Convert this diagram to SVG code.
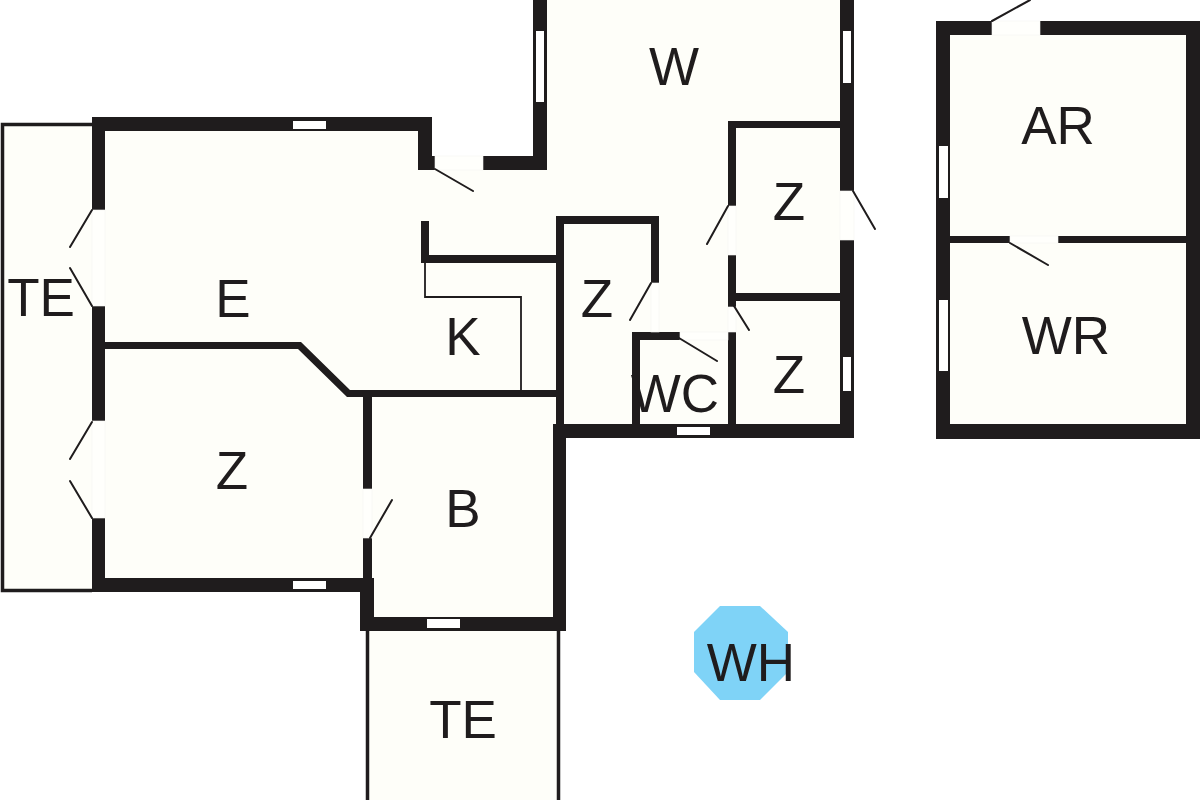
<svg xmlns="http://www.w3.org/2000/svg" width="1200" height="800" viewBox="0 0 1200 800">
<style>
.f{fill:#fefef9}
.w{fill:#1f1c1d}
.g{fill:#fffffc;stroke:#f5f5f1;stroke-width:.6}
.p{fill:#fff;stroke:none}
.l{stroke:#1f1c1d;stroke-width:2;fill:none;stroke-linecap:round}
.k{stroke:#1f1c1d;stroke-width:1.8;fill:none}
.t{stroke:#1f1c1d;stroke-width:3.500;fill:none}
text{font-family:"Liberation Sans",Arial,sans-serif;font-size:53px;fill:#1f1c1d;text-anchor:middle}
</style>
<rect width="1200" height="800" fill="#fff"/>
<g id="floor">
<path class="f" d="M3 125H92V118H432V170H547V0H854V438H566V631H560V800H367V631H360V592H3Z"/>
<rect class="f" x="936" y="21" width="264" height="418"/>
<path d="M720 606H760L788 632V672L760 700H720L694 672V632Z" fill="#7fd3f7"/>
</g>
<g id="walls">
<path class="t" d="M92 124.500H2.500V590.500H92"/>
<path class="t" d="M367.500 631V800M558.500 631V800"/>
<g class="w">
<rect x="92" y="117" width="340" height="14"/>
<rect x="92" y="117" width="13" height="93"/>
<rect x="92" y="306" width="13" height="115"/>
<rect x="92" y="518" width="13" height="74"/>
<rect x="92" y="578" width="282" height="14"/>
<rect x="360" y="578" width="14" height="53"/>
<rect x="360" y="617" width="206" height="14"/>
<rect x="553" y="424" width="13" height="207"/>
<rect x="553" y="424" width="301" height="14"/>
<path d="M105 342H301L350 390H556V397H347L298 349H105Z"/>
<rect x="363" y="397" width="9" height="92"/>
<rect x="363" y="538" width="9" height="40"/>
<rect x="418" y="117" width="14" height="53"/>
<rect x="418" y="156" width="17" height="14"/>
<rect x="483" y="156" width="64" height="14"/>
<rect x="533" y="0" width="14" height="170"/>
<rect x="421" y="221" width="8" height="42"/>
<rect x="421" y="255" width="135" height="8"/>
<rect x="556" y="216" width="8" height="208"/>
<rect x="556" y="216" width="103" height="8"/>
<rect x="651" y="216" width="8" height="67"/>
<rect x="632" y="332" width="8" height="92"/>
<rect x="632" y="332" width="48" height="8"/>
<rect x="728" y="121" width="112" height="7"/>
<rect x="728" y="121" width="8" height="85"/>
<rect x="728" y="255" width="8" height="52"/>
<rect x="728" y="332" width="8" height="92"/>
<rect x="736" y="293" width="104" height="8"/>
<rect x="840" y="0" width="14" height="191"/>
<rect x="840" y="240" width="14" height="198"/>
<path d="M936 21H992V35H950V236H1010V243H950V424H1186V243H1058V236H1186V35H1040V21H1200V439H936Z"/>
</g>
</g>
<g id="openings">
<rect class="g" x="92" y="210" width="13" height="96"/>
<rect class="g" x="92" y="421" width="13" height="97"/>
<rect class="g" x="363" y="489" width="9" height="49"/>
<rect class="g" x="435" y="156" width="48" height="14"/>
<rect class="g" x="651" y="283" width="8" height="49"/>
<rect class="g" x="680" y="332" width="48" height="8"/>
<rect class="g" x="728" y="206" width="8" height="49"/>
<rect class="g" x="728" y="307" width="8" height="25"/>
<rect class="g" x="840" y="191" width="14" height="49"/>
<rect class="g" x="992" y="21" width="48" height="14"/>
<rect class="g" x="1010" y="236" width="48" height="7"/>
</g>
<g id="windows">
<rect class="p" x="293" y="121" width="33" height="8"/>
<rect class="p" x="293" y="581" width="33" height="8"/>
<rect class="p" x="427" y="619" width="33" height="9"/>
<rect class="p" x="677" y="427" width="33" height="8"/>
<rect class="p" x="843" y="357" width="8" height="34"/>
<rect class="p" x="843" y="31" width="8" height="52"/>
<rect class="p" x="536" y="31" width="8" height="71"/>
<rect class="p" x="939" y="146" width="9" height="52"/>
<rect class="p" x="939" y="300" width="9" height="71"/>
</g>
<g id="connectors">
<path class="l" d="M92 210L70 247M70 268L92 306M92 422L70 459M70 481L92 518M370 538L392 500M435 169L473 191M651 283L630 320M728 206L707 244M734 306L749 330M679 338L717 361M853 191L875 229M992 21L1030 0M1010 243L1048 265"/>
<path class="k" d="M425 263V297H521V390"/>
</g>
<g id="labels">
<text x="41" y="316">TE</text>
<text x="233" y="317">E</text>
<text x="674" y="85">W</text>
<text x="1058" y="144">AR</text>
<text x="1066" y="354">WR</text>
<text x="789" y="220">Z</text>
<text x="789" y="393">Z</text>
<text x="675" y="412">WC</text>
<text x="463" y="355">K</text>
<text x="597" y="317">Z</text>
<text x="232" y="489">Z</text>
<text x="463" y="527">B</text>
<text x="463" y="738">TE</text>
<text x="751" y="681">WH</text>
</g>
</svg>
